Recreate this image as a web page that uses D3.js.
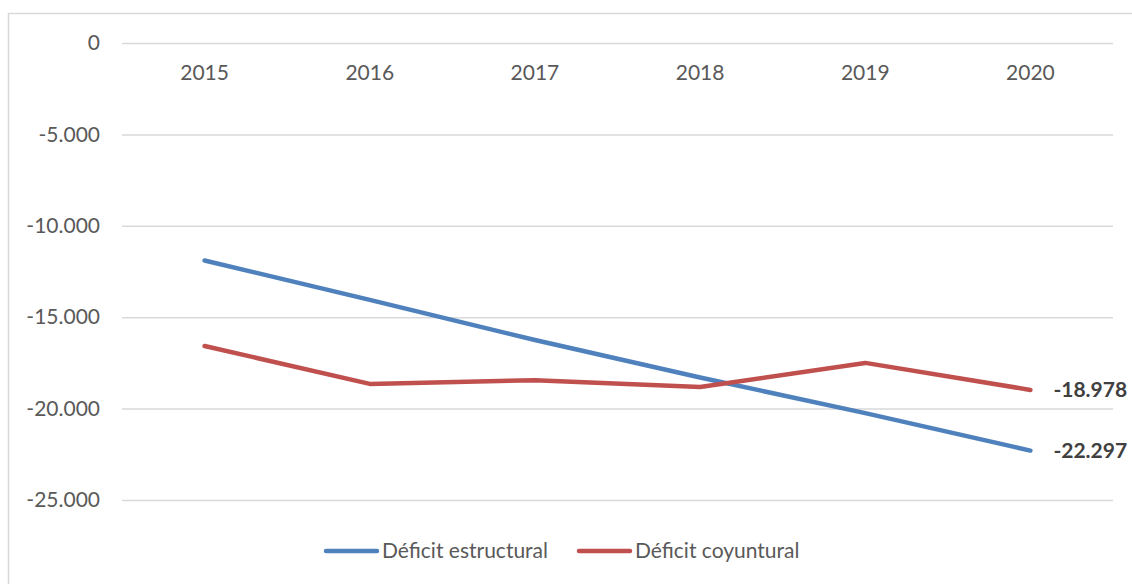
<!DOCTYPE html>
<html>
<head>
<meta charset="utf-8">
<script src="https://cdn.jsdelivr.net/npm/d3@7"></script>
<style>
  html, body { margin: 0; padding: 0; background: #fff; }
  svg { display: block; font-family: Lato, "Open Sans", sans-serif; }
</style>
</head>
<body>
<svg id="chart" width="1132" height="584"></svg>
<script>
// datos
const years = ["2015", "2016", "2017", "2018", "2019", "2020"];
const estructural = [-11900, -14050, -16250, -18300, -20250, -22297];
const coyuntural = [-16575, -18650, -18450, -18820, -17500, -18978];
const yTicks = [0, -5000, -10000, -15000, -20000, -25000];
const seriesNames = ["Déficit estructural", "Déficit coyuntural"];
const seriesColors = ["#4F81BD", "#C0504D"];

const svg = d3.select("#chart");
const W = 1132, H = 584;
const margin = {left: 122, right: 19, top: 43, bottom: 84};

// marco del gráfico
svg.append("rect")
    .attr("x", 8.5).attr("y", 13.5)
    .attr("width", W + 10).attr("height", H + 10)
    .attr("fill", "none").attr("stroke", "#d9d9d9").attr("stroke-width", 1.5);

const x = d3.scaleBand()
    .domain(years)
    .range([margin.left, W - margin.right]);

const y = d3.scaleLinear()
    .domain([-25000, 0])
    .range([H - margin.bottom, margin.top]);

// formato español con guion normal como signo menos
const es = d3.formatLocale({decimal: ",", thousands: ".", grouping: [3], currency: ["", ""], minus: "-"});
const fmt = es.format(",d");

// líneas de cuadrícula y etiquetas del eje Y
const yAxis = svg.append("g")
    .attr("transform", `translate(${margin.left},0)`)
    .call(d3.axisLeft(y).tickValues(yTicks).tickFormat(fmt)
        .tickSize(-(W - margin.left - margin.right)).tickPadding(22));
yAxis.select(".domain").remove();
yAxis.selectAll(".tick line").attr("stroke", "#d9d9d9").attr("stroke-width", 1.5);
yAxis.selectAll(".tick text")
    .attr("fill", "#595959").attr("font-size", 21)
    .attr("font-family", "Lato, sans-serif");

// etiquetas de años debajo de la línea 0
const xAxis = svg.append("g")
    .attr("transform", `translate(0,${y(0)})`)
    .call(d3.axisBottom(x).tickSize(0).tickPadding(22));
xAxis.select(".domain").remove();
xAxis.selectAll(".tick text")
    .attr("fill", "#595959").attr("font-size", 21)
    .attr("font-family", "Lato, sans-serif");

const line = d3.line()
    .x((d, i) => x(years[i]) + x.bandwidth() / 2)
    .y(d => y(d));

[estructural, coyuntural].forEach((s, k) => {
    svg.append("path")
        .datum(s)
        .attr("d", line)
        .attr("fill", "none")
        .attr("stroke", seriesColors[k])
        .attr("stroke-width", 4.5)
        .attr("stroke-linecap", "round")
        .attr("stroke-linejoin", "round");
    // etiqueta del último valor
    const last = s.length - 1;
    svg.append("text")
        .attr("x", x(years[last]) + x.bandwidth() / 2 + 23)
        .attr("y", y(s[last]))
        .attr("dy", "0.35em")
        .attr("fill", "#404040")
        .attr("font-size", 21)
        .attr("font-weight", "bold")
        .text(fmt(s[last]));
});

// leyenda
const legend = svg.append("g");
const legendX = [326, 579];
seriesNames.forEach((name, k) => {
    const g = legend.append("g").attr("transform", `translate(${legendX[k]},551)`);
    g.append("line")
        .attr("x1", 0).attr("x2", 51)
        .attr("stroke", seriesColors[k]).attr("stroke-width", 4.5)
        .attr("stroke-linecap", "round");
    g.append("text")
        .attr("x", 56).attr("dy", "0.35em")
        .attr("fill", "#595959").attr("font-size", 21)
        .text(name);
});
</script>
</body>
</html>
